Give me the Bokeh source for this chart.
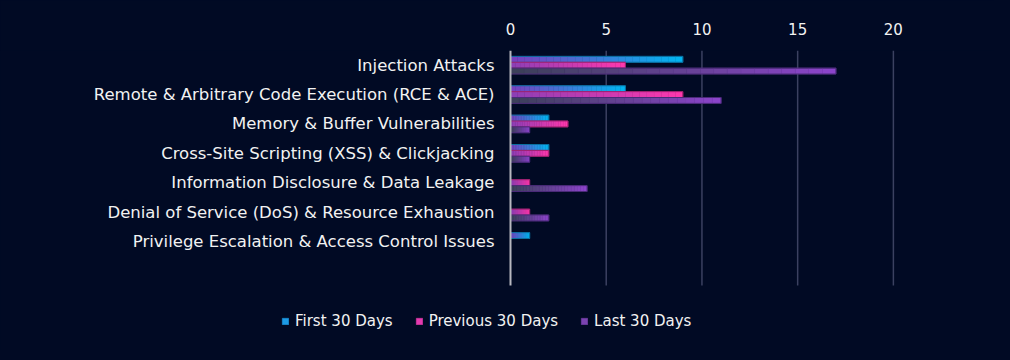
from bokeh.plotting import figure
from bokeh.models import ColumnDataSource, Range1d, Legend, LegendItem, FixedTicker
from bokeh.core.properties import value
from bokeh.embed import file_html
from bokeh.resources import INLINE

categories = [
    "Injection Attacks",
    "Remote & Arbitrary Code Execution (RCE & ACE)",
    "Memory & Buffer Vulnerabilities",
    "Cross-Site Scripting (XSS) & Clickjacking",
    "Information Disclosure & Data Leakage",
    "Denial of Service (DoS) & Resource Exhaustion",
    "Privilege Escalation & Access Control Issues",
]
first_30 = [9, 6, 2, 2, 0, 0, 1]
previous_30 = [6, 9, 3, 2, 1, 1, 0]
last_30 = [17, 11, 1, 1, 4, 2, 0]
series_names = ["First 30 Days", "Previous 30 Days", "Last 30 Days"]
x_ticks = [0, 5, 10, 15, 20]

BG = "#010a24"
TEXT = "#f2f2f2"
FONT = "DejaVu Sans"

# gradient start/end colours and outlines
styles = [
    ("#7b3fbf", "#00b6f2", "#0a6fa0"),
    ("#8b3fb5", "#ff38ad", "#a0206e"),
    ("#3a4058", "#8d44cc", "#4a2a78"),
]
offsets = [-0.2, 0.0, 0.2]
bar_h = 0.2
N = 24

# layout (pixels)
W, H = 994, 350
TOP = 50
ZERO_PX = 510
X_MAX = 22.2
PLOT_W = 425
SLOT_PX = 235 / (len(categories) + 1)

px_per = PLOT_W / X_MAX
frame_h = H - TOP
x_range = Range1d(-ZERO_PX / px_per, (W - ZERO_PX) / px_per)
y_range = Range1d(-0.5 + frame_h / SLOT_PX, -0.5)
y_lo, y_hi = -0.5, len(categories) + 0.5


def hex2rgb(h):
    h = h.lstrip("#")
    return tuple(int(h[i:i + 2], 16) for i in (0, 2, 4))


def interp(c0, c1, t):
    a, b = hex2rgb(c0), hex2rgb(c1)
    return "#%02x%02x%02x" % tuple(int(round(a[k] + (b[k] - a[k]) * t)) for k in range(3))


p = figure(frame_width=W, frame_height=frame_h, output_backend="svg", toolbar_location=None,
           x_range=x_range, y_range=y_range, x_axis_location="above",
           min_border_left=0, min_border_right=0, min_border_top=TOP, min_border_bottom=0)
p.background_fill_color = BG
p.border_fill_color = BG
p.outline_line_color = None
p.styles = {"background-color": BG}
p.grid.visible = False
p.yaxis.visible = False

xa = p.xaxis[0]
xa.ticker = FixedTicker(ticks=x_ticks)
xa.axis_line_color = None
xa.major_tick_line_color = None
xa.minor_tick_line_color = None
xa.major_label_text_color = TEXT
xa.major_label_text_font = FONT
xa.major_label_text_font_size = "15px"
xa.major_label_standoff = 10

# vertical grid lines at the ticks, spanning the category area only
gx = [t for t in x_ticks if t != 0]
p.segment(x0=gx, x1=gx, y0=[y_lo] * len(gx), y1=[y_hi] * len(gx),
          line_color="#3b4160", line_width=1.5)

legend_items = []
for s, vals in enumerate([first_30, previous_30, last_30]):
    c0, c1, oc = styles[s]
    ys, lefts, rights, cols = [], [], [], []
    for i, v in enumerate(vals):
        for k in range(N):
            ys.append(i + offsets[s])
            lefts.append(v * k / N)
            rights.append(v * (k + 1) / N)
            cols.append(interp(c0, c1, (k + 0.5) / N))
    src = ColumnDataSource(dict(y=ys, left=lefts, right=rights, color=cols))
    r = p.hbar(y="y", left="left", right="right", height=bar_h, fill_color="color",
               line_color="color", line_width=0.5, source=src)
    osrc = ColumnDataSource(dict(y=[i + offsets[s] for i in range(len(vals))], right=vals,
                                 left=[0] * len(vals)))
    p.hbar(y="y", left="left", right="right", height=bar_h, fill_color=None,
           line_color=oc, line_width=1, source=osrc)
    legend_items.append(LegendItem(label=series_names[s], renderers=[r], index=N - 6))

# category axis line at x = 0
p.segment(x0=[0], x1=[0], y0=[y_lo], y1=[y_hi], line_color="#b8b8c0", line_width=2)

# category labels
lsrc = ColumnDataSource(dict(x=[0] * len(categories), y=list(range(len(categories))),
                             text=categories))
p.text(x="x", y="y", text="text", source=lsrc, x_offset=-16, text_align="right",
       text_baseline="middle", text_color=TEXT, text_font=value(FONT),
       text_font_size="16.5px")

legend = Legend(items=legend_items, orientation="horizontal", location=(281, 20),
                background_fill_alpha=0, border_line_color=None,
                label_text_color=TEXT, label_text_font=FONT, label_text_font_size="15px",
                glyph_width=8, glyph_height=8, spacing=22, label_standoff=6,
                margin=0, padding=0)
p.add_layout(legend, "center")

html = file_html(p, INLINE)
html = html.replace("</head>", "<style>html, body { background-color: %s; }</style></head>" % BG, 1)
open("out.html", "w").write(html)
